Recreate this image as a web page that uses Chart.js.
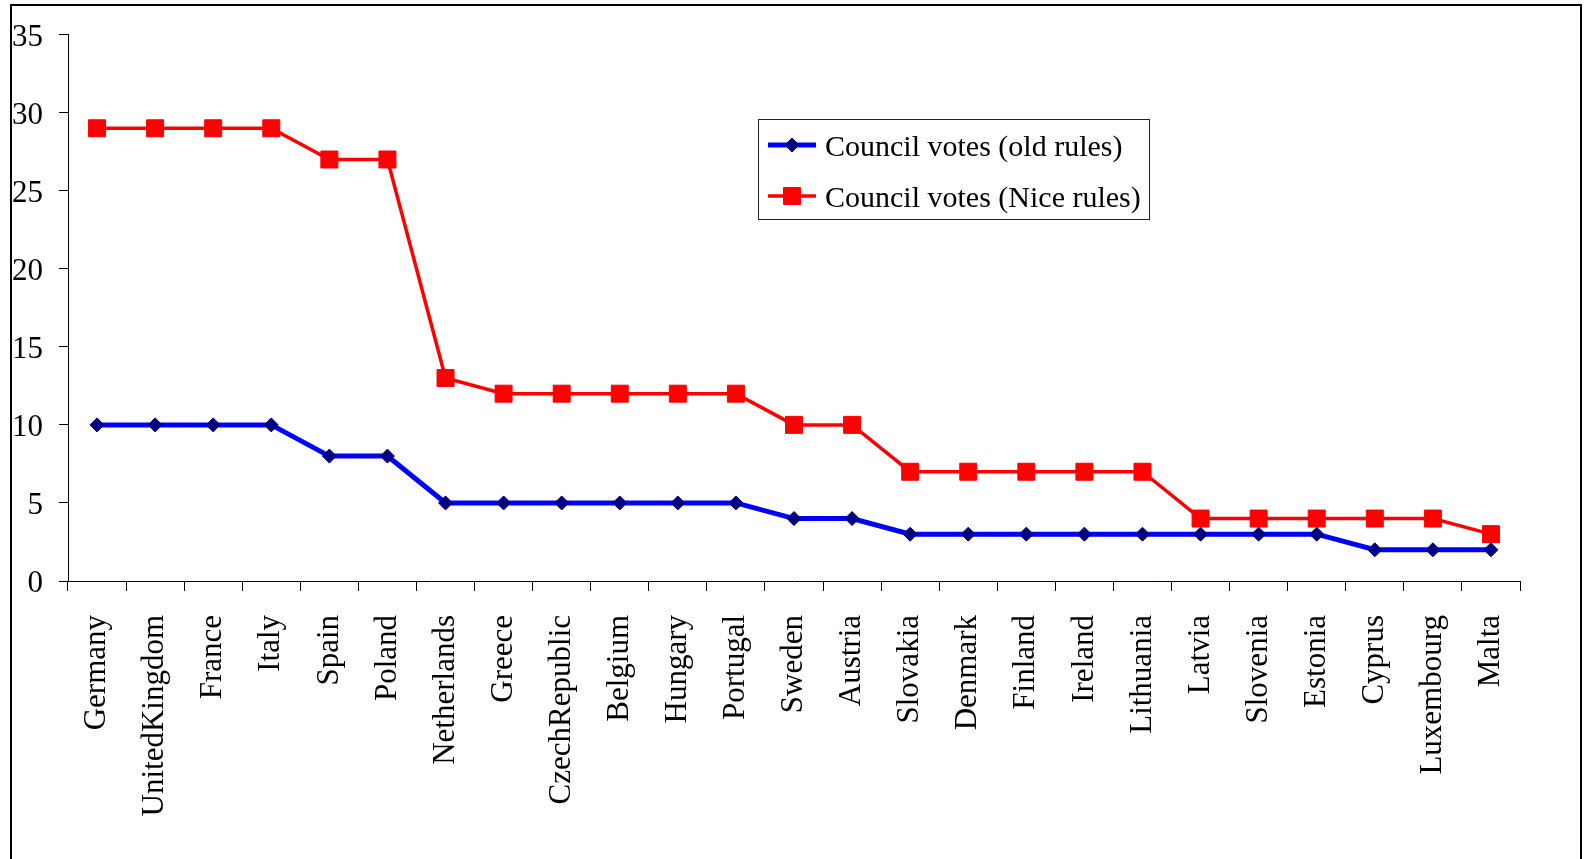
<!DOCTYPE html>
<html>
<head>
<meta charset="utf-8">
<title>Council votes</title>
<script src="https://cdn.jsdelivr.net/npm/chart.js@4.4.1/dist/chart.umd.min.js"></script>
<style>
	html, body { margin: 0; padding: 0; background: #fff; overflow: hidden; }
	#chartVotes { display: block; }
</style>
</head>
<body>
<canvas id="chartVotes" width="1585" height="859"></canvas>
<script>
	var countries = ['Germany', 'UnitedKingdom', 'France', 'Italy', 'Spain', 'Poland', 'Netherlands',
		'Greece', 'CzechRepublic', 'Belgium', 'Hungary', 'Portugal', 'Sweden', 'Austria', 'Slovakia',
		'Denmark', 'Finland', 'Ireland', 'Lithuania', 'Latvia', 'Slovenia', 'Estonia', 'Cyprus',
		'Luxembourg', 'Malta'];

	var votesOldRules = [10, 10, 10, 10, 8, 8, 5, 5, 5, 5, 5, 5, 4, 4, 3, 3, 3, 3, 3, 3, 3, 3, 2, 2, 2];
	var votesNiceRules = [29, 29, 29, 29, 27, 27, 13, 12, 12, 12, 12, 12, 10, 10, 7, 7, 7, 7, 7, 4, 4, 4, 4, 4, 3];

	var yTicks = [0, 5, 10, 15, 20, 25, 30, 35];

	var seriesNames = ['Council votes (old rules)', 'Council votes (Nice rules)'];

	var serif = "'Times New Roman', 'Liberation Serif', serif";

	// white page + the frame round the chart (no bottom edge in the original)
	var framePlugin = {
		id: 'frame',
		beforeDraw: function(chart) {
			var ctx = chart.ctx;
			ctx.save();
			ctx.fillStyle = '#fff';
			ctx.fillRect(0, 0, chart.width, chart.height);
			ctx.strokeStyle = '#000';
			ctx.lineWidth = 2;
			ctx.beginPath();
			ctx.moveTo(11, chart.height);
			ctx.lineTo(11, 5);
			ctx.lineTo(1581, 5);
			ctx.lineTo(1581, chart.height);
			ctx.stroke();
			ctx.restore();
		}
	};

	// legend box placed inside the plot, like the original
	var legendPlugin = {
		id: 'legendBox',
		afterDraw: function(chart) {
			var ctx = chart.ctx;
			var rows = [145, 196];

			ctx.save();
			ctx.strokeStyle = '#222';
			ctx.lineWidth = 1;
			ctx.strokeRect(758.5, 119.5, 391, 100);

			chart.data.datasets.forEach(function(ds, i) {
				var y = rows[i];

				ctx.strokeStyle = ds.borderColor;
				ctx.lineWidth = ds.borderWidth;
				ctx.beginPath();
				ctx.moveTo(768, y);
				ctx.lineTo(816, y);
				ctx.stroke();

				ctx.fillStyle = ds.pointBackgroundColor;
				ctx.strokeStyle = ds.pointBorderColor;
				ctx.lineWidth = 1;
				Chart.helpers.drawPoint(ctx, { pointStyle: ds.pointStyle, radius: ds.pointRadius, rotation: 0, borderWidth: 1 }, 792, y);

				ctx.fillStyle = '#000';
				ctx.font = '30px ' + serif;
				ctx.textAlign = 'left';
				ctx.textBaseline = 'middle';
				ctx.fillText(ds.label, 825, y + 3);
			});
			ctx.restore();
		}
	};

	new Chart(document.getElementById('chartVotes').getContext('2d'), {
		type: 'line',
		data: {
			labels: countries,
			datasets: [{
				label: seriesNames[0],
				data: votesOldRules,
				borderColor: '#0000FF',
				borderWidth: 5,
				pointStyle: 'rectRot',
				pointRadius: 7,
				pointBackgroundColor: '#000080',
				pointBorderColor: '#000080',
				pointBorderWidth: 1,
				tension: 0,
				fill: false
			},
			{
				label: seriesNames[1],
				data: votesNiceRules,
				borderColor: '#FF0000',
				borderWidth: 3.5,
				pointStyle: 'rect',
				pointRadius: 12,
				pointBackgroundColor: '#FF0000',
				pointBorderColor: '#FF0000',
				pointBorderWidth: 1,
				tension: 0,
				fill: false
			}]
		},
		options: {
			responsive: false,
			animation: false,
			devicePixelRatio: 1,
			layout: {
				padding: { left: 0, top: 34, right: 65, bottom: 0 }
			},
			plugins: {
				legend: { display: false },
				tooltip: { enabled: false }
			},
			scales: {
				x: {
					offset: true,
					grid: {
						offset: true,
						drawOnChartArea: false,
						drawTicks: true,
						tickLength: 10,
						color: '#000'
					},
					border: { display: true, color: '#000', width: 1 },
					ticks: {
						autoSkip: false,
						maxRotation: 90,
						minRotation: 90,
						padding: 24,
						color: '#000',
						font: { family: serif, size: 31 }
					},
					afterFit: function(scale) {
						scale.height = 278;
					}
				},
				y: {
					min: 0,
					max: 35,
					grid: {
						drawOnChartArea: false,
						drawTicks: true,
						tickLength: 9,
						color: '#000'
					},
					border: { display: true, color: '#000', width: 1 },
					ticks: {
						padding: 16,
						labelOffset: 3,
						color: '#000',
						font: { family: serif, size: 31 }
					},
					afterBuildTicks: function(scale) {
						scale.ticks = yTicks.map(function(v) { return { value: v }; });
					},
					afterFit: function(scale) {
						scale.width = 68;
					}
				}
			}
		},
		plugins: [framePlugin, legendPlugin]
	});
</script>
</body>
</html>
